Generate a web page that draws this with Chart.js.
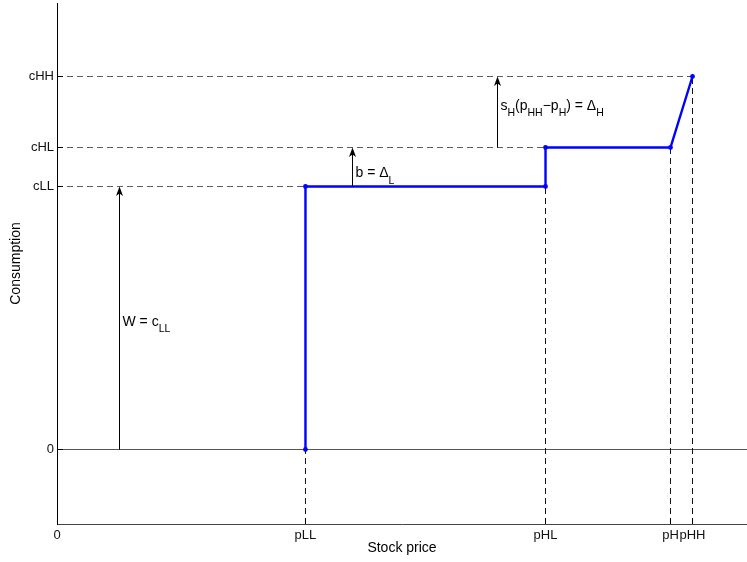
<!DOCTYPE html>
<html>
<head>
<meta charset="utf-8">
<script src="https://cdn.jsdelivr.net/npm/chart.js@4/dist/chart.umd.min.js"></script>
<style>
  html, body { margin: 0; padding: 0; background: #fff; }
  canvas { display: block; }
</style>
</head>
<body>
<canvas id="c" width="747" height="562"></canvas>
<script>
// Price levels on the horizontal axis and their tick labels
const priceLabels = ['0', 'pLL', 'pHL', 'pH', 'pHH'];
const priceValues = [0, 0.3601, 0.7080, 0.8891, 0.9210];

// Consumption levels on the vertical axis and their tick labels
const consumptionLabels = ['0', 'cLL', 'cHL', 'cHH'];
const consumptionValues = [0, 1, 1.1483, 1.4183];

// Consumption schedule as a function of the stock price
const scheduleX = [0.3601, 0.3601, 0.7080, 0.7080, 0.8891, 0.9210];
const scheduleY = [0, 1, 1, 1.1483, 1.1483, 1.4183];

// Axis ranges
const priceRange = [0, 1];
const consumptionRange = [-0.2833, 1.6977];

// Increments shown as arrows: price position, start level, end level, label level
const arrowX = [0.0906, 0.4283, 0.6384];
const arrowFrom = [0, 1, 1.1483];
const arrowTo = [1, 1.1483, 1.4183];
const arrowLabelY = [0.47, 1.036, 1.291];
// Label text, split into [text, isSubscript] runs
const arrowLabels = [
  [['W = c'], ['LL', 1]],
  [['b = \u0394'], ['L', 1]],
  [['s'], ['H', 1], ['(p'], ['HH', 1], ['\u2212p'], ['H', 1], [') = \u0394'], ['H', 1]]
];

const FONT = '"Liberation Sans", Arial, Helvetica, sans-serif';

// Schedule points
const schedule = scheduleX.map((x, i) => ({ x, y: scheduleY[i] }));

// Dashed guides: horizontal from the axis to the first vertex of each level,
// vertical from the bottom of the plot to the lowest vertex at each price
const hGuides = [];
const seenY = new Set();
schedule.forEach(p => {
  if (p.y !== 0 && !seenY.has(p.y)) { seenY.add(p.y); hGuides.push(p); }
});
const vGuides = [];
const seenX = new Set();
schedule.forEach(p => {
  if (!seenX.has(p.x)) { seenX.add(p.x); vGuides.push(p); }
});

const datasets = [
  {
    data: schedule,
    showLine: true,
    borderColor: '#0000ff',
    backgroundColor: '#0000ff',
    borderWidth: 2.4,
    pointRadius: 2.4,
    pointBorderWidth: 0,
    pointBackgroundColor: '#0000ff',
    order: 0
  },
  ...hGuides.map(p => ({
    data: [{ x: priceRange[0], y: p.y }, { x: p.x, y: p.y }],
    showLine: true,
    borderColor: '#5e5e5e',
    borderWidth: 1.1,
    borderDash: [6, 4],
    pointRadius: 0,
    order: 1
  })),
  ...vGuides.map(p => ({
    data: [{ x: p.x, y: consumptionRange[0] }, { x: p.x, y: p.y }],
    showLine: true,
    borderColor: '#111',
    borderWidth: 1,
    borderDash: [6, 4],
    pointRadius: 0,
    order: 1
  })),
  {
    data: [{ x: priceRange[0], y: 0 }, { x: priceRange[1], y: 0 }],
    showLine: true,
    borderColor: '#555',
    borderWidth: 1.1,
    pointRadius: 0,
    order: 2
  }
];

const crisp = p => Math.floor(p) + 0.5;

function drawRich(ctx, x, y, parts) {
  ctx.textAlign = 'left';
  ctx.textBaseline = 'alphabetic';
  ctx.fillStyle = '#000';
  parts.forEach(([t, sub]) => {
    ctx.font = (sub ? '10.5px ' : '14px ') + FONT;
    ctx.fillText(t, x, sub ? y + 6.5 : y);
    x += ctx.measureText(t).width;
  });
}

// Inward tick marks, increment arrows and their labels
const annotate = {
  id: 'annotate',
  afterDatasetsDraw(chart) {
    const { ctx, chartArea, scales: { x, y } } = chart;
    ctx.save();
    ctx.strokeStyle = '#000';
    ctx.fillStyle = '#000';
    ctx.lineWidth = 1;
    ctx.setLineDash([]);

    ctx.beginPath();
    consumptionValues.forEach(v => {
      const py = crisp(y.getPixelForValue(v));
      ctx.moveTo(chartArea.left, py);
      ctx.lineTo(chartArea.left + 6, py);
    });
    priceValues.forEach(v => {
      const px = crisp(x.getPixelForValue(v));
      ctx.moveTo(px, chartArea.bottom);
      ctx.lineTo(px, chartArea.bottom - 6);
    });
    ctx.stroke();

    arrowX.forEach((ax, i) => {
      const px = crisp(x.getPixelForValue(ax));
      const y0 = y.getPixelForValue(arrowFrom[i]);
      const y1 = y.getPixelForValue(arrowTo[i]);
      ctx.beginPath();
      ctx.moveTo(px, y0);
      ctx.lineTo(px, y1 + 6);
      ctx.stroke();
      ctx.beginPath();
      ctx.moveTo(px, y1);
      ctx.lineTo(px - 3.5, y1 + 9.5);
      ctx.lineTo(px, y1 + 7);
      ctx.lineTo(px + 3.5, y1 + 9.5);
      ctx.closePath();
      ctx.fill();
      drawRich(ctx, px + 3, y.getPixelForValue(arrowLabelY[i]), arrowLabels[i]);
    });
    ctx.restore();
  }
};

new Chart(document.getElementById('c'), {
  type: 'scatter',
  data: { datasets },
  plugins: [annotate],
  options: {
    responsive: false,
    devicePixelRatio: 1,
    animation: false,
    layout: { autoPadding: false, padding: { top: 3, left: 0, right: 0, bottom: 0 } },
    plugins: { legend: { display: false }, tooltip: { enabled: false } },
    scales: {
      x: {
        type: 'linear',
        min: priceRange[0],
        max: priceRange[1],
        afterBuildTicks: s => { s.ticks = priceValues.map(v => ({ value: v })); },
        afterFit: s => { s.height = 38; s.paddingLeft = 0; s.paddingRight = 0; },
        grid: { display: false, drawTicks: false },
        border: { display: true, color: '#444', width: 1 },
        ticks: {
          autoSkip: false,
          maxRotation: 0,
          minRotation: 0,
          padding: 3.5,
          color: '#111',
          font: { family: FONT, size: 13 },
          callback: v => priceLabels[priceValues.indexOf(v)]
        },
        title: {
          display: true,
          text: 'Stock price',
          color: '#000',
          font: { family: FONT, size: 14 },
          padding: { top: 0, bottom: 5.6 }
        }
      },
      y: {
        type: 'linear',
        min: consumptionRange[0],
        max: consumptionRange[1],
        afterBuildTicks: s => { s.ticks = consumptionValues.map(v => ({ value: v })); },
        afterFit: s => { s.width = 57; s.paddingTop = 0; s.paddingBottom = 0; },
        grid: { display: false, drawTicks: false },
        border: { display: true, color: '#000', width: 1 },
        ticks: {
          autoSkip: false,
          padding: 3,
          color: '#111',
          font: { family: FONT, size: 13 },
          callback: v => consumptionLabels[consumptionValues.indexOf(v)]
        },
        title: {
          display: true,
          text: 'Consumption',
          color: '#000',
          font: { family: FONT, size: 14 },
          padding: { top: 7.8, bottom: 0 }
        }
      }
    }
  }
});
</script>
</body>
</html>
